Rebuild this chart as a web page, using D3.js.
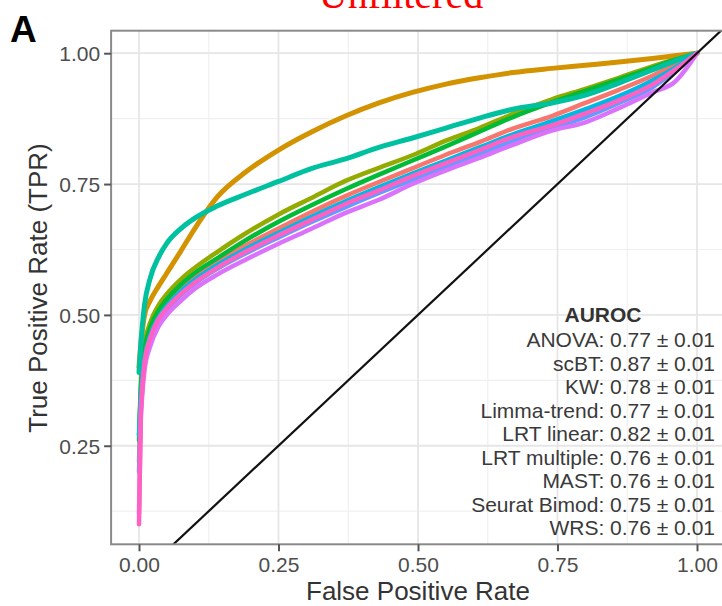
<!DOCTYPE html>
<html>
<head>
<meta charset="utf-8">
<script src="https://cdn.jsdelivr.net/npm/d3@7"></script>
<style>
  html, body { margin: 0; padding: 0; background: #ffffff; }
  svg { display: block; }
  text { font-family: "Liberation Sans", Arial, Helvetica, sans-serif; }
</style>
</head>
<body>
<div id="chart"></div>
<script>
// ---------------- data ----------------
const methods = ["ANOVA", "scBT", "KW", "Limma-trend", "LRT linear", "LRT multiple", "MAST", "Seurat Bimod", "WRS"];
const colors  = ["#F8766D", "#D39200", "#93AA00", "#00BA38", "#00C19F", "#00B9E3", "#619CFF", "#DB72FB", "#FF61C3"];
const aurocs  = ["0.77 \u00B1 0.01", "0.87 \u00B1 0.01", "0.78 \u00B1 0.01", "0.77 \u00B1 0.01", "0.82 \u00B1 0.01",
                 "0.76 \u00B1 0.01", "0.76 \u00B1 0.01", "0.75 \u00B1 0.01", "0.76 \u00B1 0.01"];

const fpr = [0, 0.003, 0.006, 0.01, 0.02, 0.035, 0.05, 0.075, 0.1, 0.14, 0.19, 0.25, 0.31,
             0.37, 0.43, 0.49, 0.55, 0.61, 0.67, 0.74, 0.8, 0.86, 0.92, 0.96, 1.0];

const tprANOVA       = [0.22, 0.33, 0.385, 0.425, 0.468, 0.5, 0.522, 0.55, 0.572, 0.6, 0.632, 0.665, 0.697,
                        0.727, 0.754, 0.78, 0.806, 0.83, 0.856, 0.88, 0.905, 0.93, 0.957, 0.978, 1.0];
const tprScBT        = [0.40, 0.44, 0.47, 0.50, 0.527, 0.555, 0.58, 0.622, 0.665, 0.725, 0.772, 0.815, 0.85,
                        0.88, 0.905, 0.925, 0.941, 0.953, 0.963, 0.971, 0.977, 0.983, 0.990, 0.995, 1.0];
const tprKW          = [0.27, 0.36, 0.41, 0.445, 0.485, 0.518, 0.54, 0.568, 0.59, 0.62, 0.655, 0.692, 0.724,
                        0.756, 0.781, 0.805, 0.833, 0.857, 0.884, 0.912, 0.932, 0.953, 0.975, 0.988, 1.0];
const tprLimma       = [0.26, 0.35, 0.40, 0.435, 0.475, 0.508, 0.53, 0.558, 0.58, 0.608, 0.642, 0.678, 0.71,
                        0.74, 0.768, 0.795, 0.822, 0.85, 0.878, 0.906, 0.928, 0.95, 0.972, 0.987, 1.0];
const tprLRTlinear   = [0.39, 0.44, 0.48, 0.52, 0.57, 0.61, 0.637, 0.665, 0.685, 0.708, 0.73, 0.755, 0.78,
                        0.798, 0.82, 0.838, 0.857, 0.876, 0.893, 0.905, 0.92, 0.943, 0.968, 0.985, 1.0];
const tprLRTmultiple = [0.27, 0.34, 0.38, 0.415, 0.46, 0.495, 0.517, 0.545, 0.567, 0.595, 0.625, 0.657, 0.688,
                        0.717, 0.744, 0.77, 0.795, 0.82, 0.845, 0.87, 0.893, 0.918, 0.948, 0.972, 1.0];
const tprMAST        = [0.20, 0.31, 0.365, 0.405, 0.45, 0.487, 0.51, 0.538, 0.56, 0.588, 0.617, 0.648, 0.678,
                        0.706, 0.733, 0.758, 0.783, 0.808, 0.832, 0.857, 0.878, 0.905, 0.935, 0.965, 1.0];
const tprSeurat      = [0.12, 0.29, 0.35, 0.395, 0.44, 0.478, 0.5, 0.527, 0.55, 0.577, 0.605, 0.636, 0.665,
                        0.695, 0.72, 0.75, 0.776, 0.80, 0.825, 0.852, 0.868, 0.895, 0.925, 0.945, 1.0];
const tprWRS         = [0.10, 0.30, 0.36, 0.41, 0.455, 0.492, 0.513, 0.54, 0.562, 0.59, 0.62, 0.652, 0.682,
                        0.712, 0.738, 0.765, 0.79, 0.815, 0.84, 0.862, 0.885, 0.91, 0.94, 0.968, 1.0];

const tprSeries = [tprANOVA, tprScBT, tprKW, tprLimma, tprLRTlinear, tprLRTmultiple, tprMAST, tprSeurat, tprWRS];

const xTicks = [0, 0.25, 0.5, 0.75, 1.0];
const yTicks = [0.25, 0.5, 0.75, 1.0];
const xMinor = [0.125, 0.375, 0.625, 0.875];
const yMinor = [0.125, 0.375, 0.625, 0.875];
const xDomain = [-0.05, 1.05];
const yDomain = [0.0617, 1.043];

const titleText = "Unfiltered";
const panelLabel = "A";
const xTitle = "False Positive Rate";
const yTitle = "True Positive Rate (TPR)";
const legendTitle = "AUROC";

// ---------------- layout ----------------
const W = 722, H = 606;
const panel = { left: 111.1, top: 30.7, right: 724.9, bottom: 544.3 };

const svg = d3.select("#chart").append("svg")
  .attr("width", W).attr("height", H);

const x = d3.scaleLinear().domain(xDomain).range([panel.left, panel.right]);
const y = d3.scaleLinear().domain(yDomain).range([panel.bottom, panel.top]);

svg.append("defs").append("clipPath").attr("id", "clip")
  .append("rect")
  .attr("x", panel.left).attr("y", panel.top)
  .attr("width", panel.right - panel.left).attr("height", panel.bottom - panel.top);

// panel background
svg.append("rect")
  .attr("x", panel.left).attr("y", panel.top)
  .attr("width", panel.right - panel.left).attr("height", panel.bottom - panel.top)
  .attr("fill", "#ffffff");

// grid
const grid = svg.append("g").attr("clip-path", "url(#clip)");
grid.selectAll(".xminor").data(xMinor).join("line")
  .attr("x1", d => x(d)).attr("x2", d => x(d))
  .attr("y1", panel.top).attr("y2", panel.bottom)
  .attr("stroke", "#f0f0f0").attr("stroke-width", 1.2);
grid.selectAll(".yminor").data(yMinor).join("line")
  .attr("y1", d => y(d)).attr("y2", d => y(d))
  .attr("x1", panel.left).attr("x2", panel.right)
  .attr("stroke", "#f0f0f0").attr("stroke-width", 1.2);
grid.selectAll(".xmajor").data(xTicks).join("line")
  .attr("x1", d => x(d)).attr("x2", d => x(d))
  .attr("y1", panel.top).attr("y2", panel.bottom)
  .attr("stroke", "#e6e6e6").attr("stroke-width", 1.8);
grid.selectAll(".ymajor").data(yTicks).join("line")
  .attr("y1", d => y(d)).attr("y2", d => y(d))
  .attr("x1", panel.left).attr("x2", panel.right)
  .attr("stroke", "#e6e6e6").attr("stroke-width", 1.8);

// curves
const line = d3.line().x(d => x(d[0])).y(d => y(d[1])).curve(d3.curveMonotoneX);
const straight = d3.line().x(d => x(d[0])).y(d => y(d[1]));
const curves = svg.append("g").attr("clip-path", "url(#clip)");
methods.forEach((m, i) => {
  const pts = fpr.map((f, j) => [f, tprSeries[i][j]]);
  curves.append("path")
    .datum(pts)
    .attr("d", line)
    .attr("fill", "none")
    .attr("stroke", colors[i])
    .attr("stroke-width", (m === "scBT" || m === "LRT linear") ? 5 : 4.5)
    .attr("stroke-linejoin", "round")
    .attr("stroke-linecap", "round");
});

// diagonal
curves.append("path")
  .datum([[0, 0], [1.1, 1.1]])
  .attr("d", straight)
  .attr("fill", "none")
  .attr("stroke", "#111111")
  .attr("stroke-width", 2.2);

// panel border
svg.append("rect")
  .attr("x", panel.left).attr("y", panel.top)
  .attr("width", panel.right - panel.left).attr("height", panel.bottom - panel.top)
  .attr("fill", "none").attr("stroke", "#8a8a8a").attr("stroke-width", 2);

// axes
const xAxis = d3.axisBottom(x).tickValues(xTicks).tickFormat(d3.format(".2f")).tickSize(7).tickPadding(6);
const yAxis = d3.axisLeft(y).tickValues(yTicks).tickFormat(d3.format(".2f")).tickSize(7).tickPadding(4);

const gx = svg.append("g").attr("transform", `translate(0,${panel.bottom})`).call(xAxis);
const gy = svg.append("g").attr("transform", `translate(${panel.left},0)`).call(yAxis);
[gx, gy].forEach(g => {
  g.select(".domain").remove();
  g.selectAll(".tick line").attr("stroke", "#555555").attr("stroke-width", 2);
  g.selectAll(".tick text").attr("fill", "#4d4d4d").style("font-size", "21px")
    .style("font-family", "'Liberation Sans', Arial, sans-serif");
});
gy.selectAll(".tick text").attr("dy", "0.36em");

// axis titles
svg.append("text")
  .attr("x", x(0.5)).attr("y", 600)
  .attr("text-anchor", "middle")
  .attr("fill", "#333333").style("font-size", "26px")
  .text(xTitle);

svg.append("text")
  .attr("transform", `translate(47,${(panel.top + panel.bottom) / 2 + 0.5}) rotate(-90)`)
  .attr("text-anchor", "middle")
  .attr("fill", "#333333").style("font-size", "26px")
  .text(yTitle);

// AUROC annotation
const legX = 715;
svg.append("text")
  .attr("x", 603).attr("y", 322)
  .attr("text-anchor", "middle")
  .attr("fill", "#333333").style("font-size", "21px").style("font-weight", "bold")
  .text(legendTitle);
methods.forEach((m, i) => {
  svg.append("text")
    .attr("x", legX).attr("y", 347 + i * 23.5)
    .attr("text-anchor", "end")
    .attr("fill", "#3a3a3a").style("font-size", "21px")
    .text(`${m}: ${aurocs[i]}`);
});

// panel label and title
svg.append("text")
  .attr("x", 10).attr("y", 42)
  .attr("fill", "#000000").style("font-size", "37px").style("font-weight", "bold")
  .text(panelLabel);

svg.append("text")
  .attr("x", 401).attr("y", 8)
  .attr("text-anchor", "middle")
  .attr("fill", "#ff0000")
  .style("font-family", "'Liberation Serif', 'DejaVu Serif', 'Times New Roman', serif")
  .style("font-size", "40px")
  .text(titleText);
</script>
</body>
</html>
